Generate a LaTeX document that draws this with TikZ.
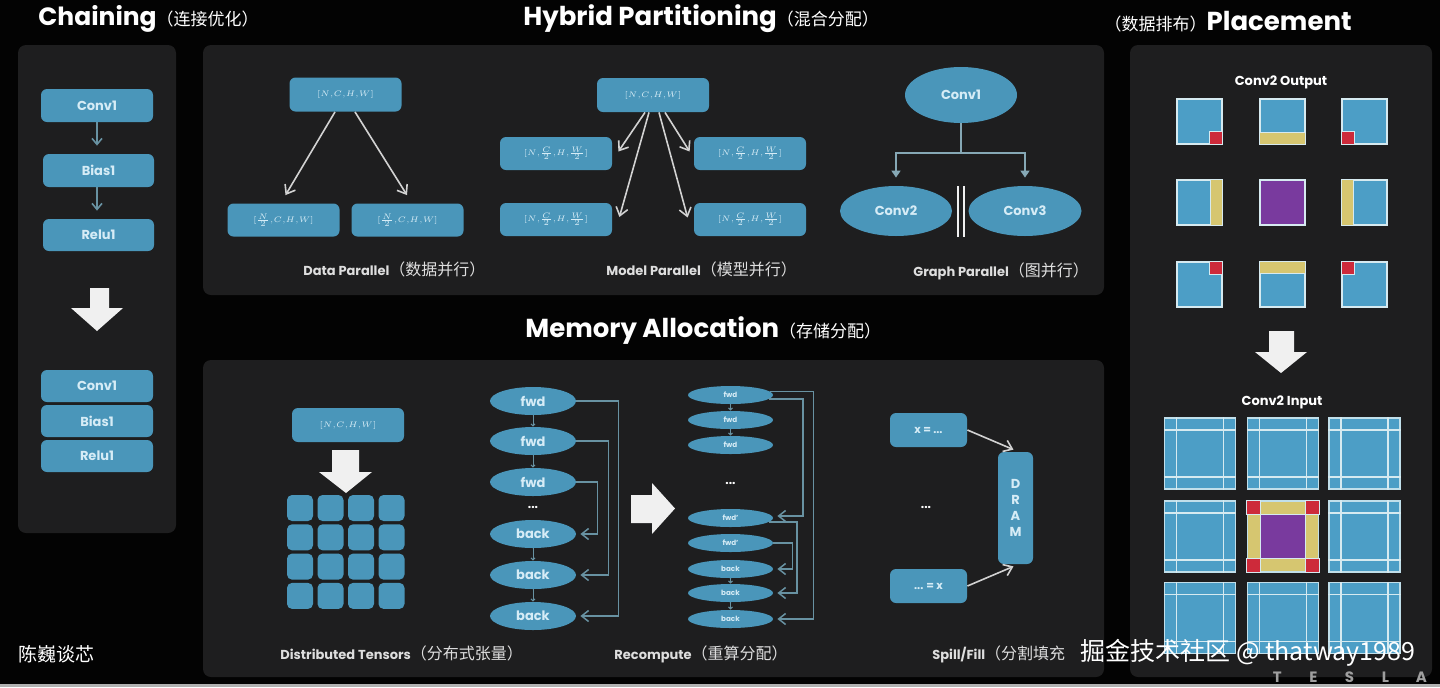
\documentclass[tikz,border=0pt]{standalone}
\usepackage{fontspec}
\usepackage{graphicx}
\setmainfont{Poppins}
\newfontfamily\cjk{Noto Sans CJK SC}
\usetikzlibrary{shapes.geometric,arrows.meta,calc}
\definecolor{bg}{RGB}{3,3,3}
\definecolor{panel}{RGB}{30,30,31}
\definecolor{boxblue}{RGB}{74,150,186}
\definecolor{boxtext}{RGB}{214,236,246}
\definecolor{arrgray}{RGB}{210,210,210}
\definecolor{linkblue}{RGB}{104,146,162}
\definecolor{sqblue}{RGB}{76,158,198}
\definecolor{sqline}{RGB}{214,234,240}
\definecolor{yel}{RGB}{214,198,112}
\definecolor{redc}{RGB}{205,42,58}
\definecolor{pur}{RGB}{121,58,158}
\definecolor{lbl}{RGB}{222,222,222}
\definecolor{bigarr}{RGB}{240,240,240}
\newcommand\zhA[1]{{\cjk\mdseries\fontsize{8.5}{9}\selectfont #1}}
\newcommand\zhB[1]{{\cjk\mdseries\fontsize{8}{9}\selectfont #1}}
\newcommand\smallmath[1]{\scalebox{0.8}{$#1$}}
\tikzset{
  panelbox/.style={fill=panel, rounded corners=4pt},
  bluebox/.style={rectangle, rounded corners=3pt, fill=boxblue, text=boxtext, inner sep=0pt, font=\bfseries\fontsize{6.5}{7}\selectfont},
  mathbox/.style={bluebox, font=\fontsize{5}{6}\selectfont},
  blueell/.style={ellipse, fill=boxblue, text=boxtext, inner sep=0pt, font=\bfseries\fontsize{6.5}{7}\selectfont},
  smallell/.style={blueell, font=\bfseries\fontsize{3.6}{4}\selectfont},
  ttl/.style={text=white, inner sep=0pt, font=\bfseries\fontsize{13}{14}\selectfont},
  lbltext/.style={text=lbl, inner sep=0pt, font=\bfseries\fontsize{6.5}{7}\selectfont},
  dotsty/.style={text=white, inner sep=0pt, font=\bfseries\fontsize{6}{7}\selectfont},
  grayarrow/.style={draw=arrgray, line width=0.8pt, -{Straight Barb[length=4pt,width=6pt]}},
  chainarrow/.style={draw=linkblue, line width=0.8pt, -{Straight Barb[length=3pt,width=5pt]}},
  fbarrow/.style={draw=linkblue, line width=0.75pt, -{Straight Barb[length=3.5pt,width=5.5pt]}},
  tinyarrow/.style={draw=linkblue, line width=0.5pt, -{Straight Barb[length=1pt,width=2pt]}},
  gline/.style={draw=linkblue!80!white, line width=0.8pt},
  osq/.style={rectangle, fill=sqblue, draw=sqline, line width=0.6pt, minimum size=22.5pt, inner sep=0pt},
  isq/.style={rectangle, fill=sqblue, draw=sqline!85!sqblue, line width=0.7pt, minimum size=35.5pt, inner sep=0pt},
  ovl/.style={draw=sqline, line width=0.6pt},
  inl/.style={draw=sqline, line width=0.75pt},
}
\begin{document}
\begin{tikzpicture}[x=0.5pt,y=-0.5pt]
\fill[bg] (0,0) rectangle (1440,687);
\useasboundingbox (0,0) rectangle (1440,687);
\fill[gray!60] (0,684) rectangle (1440,687);

% panels
\fill[panelbox] (18,45) rectangle (176,533);
\fill[panelbox] (203,45) rectangle (1104,295);
\fill[panelbox] (203,360) rectangle (1104,677);
\fill[panelbox] (1130,45) rectangle (1432,677);

% titles
\node[ttl, anchor=base west, font=\bfseries\fontsize{12.5}{14}\selectfont] (tchain) at (38,25) {Chaining\zhA{（连接优化）}};
\node[ttl, anchor=base west] (thybrid) at (523,25) {Hybrid Partitioning\zhA{（混合分配）}};
\node[ttl, anchor=base east] (tplace) at (1352,30) {\zhA{（数据排布）}Placement};
\node[ttl, anchor=base west] (tmem) at (525,337) {Memory Allocation\zhA{（存储分配）}};

% ---------------- Chaining ----------------
\node[bluebox, minimum width=56pt, minimum height=16.5pt] (cc1) at (97,105.5) {Conv1};
\node[bluebox, minimum width=55.5pt, minimum height=16.5pt] (cb1) at (98.5,170.5) {Bias1};
\node[bluebox, minimum width=55.5pt, minimum height=16pt] (cr1) at (98.5,235) {Relu1};
\draw[chainarrow] (cc1.south) -- ([yshift=4pt]cc1.south |- cb1.north);
\draw[chainarrow] (cc1.south |- cb1.south) -- ([yshift=4pt]cc1.south |- cr1.north);
\fill[bigarr] (90,288) -- (109,288) -- (109,308) -- (123,308) -- (97,331) -- (71,308) -- (90,308) -- cycle;
\node[bluebox, minimum width=56pt, minimum height=16pt] (cc2) at (97,386) {Conv1};
\node[bluebox, minimum width=56pt, minimum height=16pt] (cb2) at (97,421) {Bias1};
\node[bluebox, minimum width=56pt, minimum height=16pt] (cr2) at (97,456) {Relu1};

% ---------------- Data parallel ----------------
\node[mathbox, minimum width=56pt, minimum height=17pt] (dtop) at (345.5,94.5) {\smallmath{[N{,}C{,}H{,}W]}};
\node[mathbox, minimum width=56pt, minimum height=16.5pt] (dl) at (283.5,220) {\smallmath{[\frac{N}{2}{,}C{,}H{,}W]}};
\node[mathbox, minimum width=56pt, minimum height=16.5pt] (dr) at (407.5,220) {\smallmath{[\frac{N}{2}{,}C{,}H{,}W]}};
\draw[grayarrow] ([xshift=-5.25pt]dtop.south) -- ([xshift=1pt,yshift=4pt]dl.north);
\draw[grayarrow] ([xshift=4.75pt]dtop.south) -- ([xshift=-0.25pt,yshift=4pt]dr.north);
\node[lbltext, anchor=base west] (ldp) at (303,275) {Data Parallel\zhB{（数据并行）}};

% ---------------- Model parallel ----------------
\node[mathbox, minimum width=56pt, minimum height=17pt] (mtop) at (653,95) {\smallmath{[N{,}C{,}H{,}W]}};
\node[mathbox, minimum width=56pt, minimum height=16.5pt] (ml1) at (556,153.5) {\smallmath{[N{,}\frac{C}{2}{,}H{,}\frac{W}{2}]}};
\node[mathbox, minimum width=56pt, minimum height=16.5pt] (mr1) at (750,153.5) {\smallmath{[N{,}\frac{C}{2}{,}H{,}\frac{W}{2}]}};
\node[mathbox, minimum width=56pt, minimum height=16.5pt] (ml2) at (556,219.5) {\smallmath{[N{,}\frac{C}{2}{,}H{,}\frac{W}{2}]}};
\node[mathbox, minimum width=56pt, minimum height=16.5pt] (mr2) at (750,219.5) {\smallmath{[N{,}\frac{C}{2}{,}H{,}\frac{W}{2}]}};
\draw[grayarrow] ([xshift=-4pt]mtop.south) -- ([xshift=3pt,yshift=1pt]ml1.east);
\draw[grayarrow] ([xshift=-2pt]mtop.south) -- ([xshift=3.5pt,yshift=1.25pt]ml2.east);
\draw[grayarrow] ([xshift=3pt]mtop.south) -- ([xshift=-3pt,yshift=1pt]mr2.west);
\draw[grayarrow] ([xshift=6pt]mtop.south) -- ([xshift=-2pt,yshift=1pt]mr1.west);
\node[lbltext, anchor=base west] (lmp) at (606,275) {Model Parallel\zhB{（模型并行）}};

% ---------------- Graph parallel ----------------
\node[blueell, minimum width=56pt, minimum height=28pt] (g1) at (961,95) {Conv1};
\node[blueell, minimum width=56pt, minimum height=25pt] (g2) at (896,211) {Conv2};
\node[blueell, minimum width=56.5pt, minimum height=25pt] (g3) at (1025,211) {Conv3};
\coordinate (gj) at (961,153);
\draw[gline] (g1.south) -- (gj);
\draw[gline, -{Triangle[length=3.5pt,width=4.5pt]}] (gj) -| ([yshift=4pt]g2.north);
\draw[gline, -{Triangle[length=3.5pt,width=4.5pt]}] (gj) -| ([yshift=4pt]g3.north);
\draw[white!88!gray, line width=1pt] (958,186) -- (958,237) (964,186) -- (964,237);
\node[lbltext, anchor=base west] (lgp) at (913,276) {Graph Parallel\zhB{（图并行）}};

% ---------------- Distributed tensors ----------------
\node[mathbox, minimum width=56pt, minimum height=17pt] (dt) at (348,425) {\smallmath{[N{,}C{,}H{,}W]}};
\fill[bigarr] (332,450) -- (359,450) -- (359,472) -- (372,472) -- (346,493) -- (319,472) -- (332,472) -- cycle;
\foreach \i in {0,...,3}{
  \foreach \j in {0,...,3}{
    \node[bluebox, minimum size=13pt, rounded corners=2.5pt] (cell-\i-\j) at ({300+30.5*\i},{508+29.3*\j}) {};
  }
}
\node[lbltext, anchor=base west] (ldt) at (280,659) {Distributed Tensors\zhB{（分布式张量）}};

% ---------------- Recompute (before) ----------------
\node[blueell, minimum width=43pt, minimum height=14pt] (f1) at (533,401) {fwd};
\node[blueell, minimum width=43pt, minimum height=14pt] (f2) at (533,441) {fwd};
\node[blueell, minimum width=43pt, minimum height=14pt] (f3) at (533,482) {fwd};
\node[dotsty] (rd1) at (533,507) {...};
\node[blueell, minimum width=43pt, minimum height=14pt] (k1) at (533,534) {back};
\node[blueell, minimum width=43pt, minimum height=14pt] (k2) at (533,575) {back};
\node[blueell, minimum width=43pt, minimum height=14pt] (k3) at (533,616) {back};
\draw[tinyarrow] (f1.south) -- (f2.north);
\draw[tinyarrow] (f2.south) -- (f3.north);
\draw[tinyarrow] (k1.south) -- (k2.north);
\draw[tinyarrow] (k2.south) -- (k3.north);
\draw[fbarrow] (f1.east) -- ++(42,0) |- ([xshift=2pt]k3.east);
\draw[fbarrow] (f2.east) -- ++(32,0) |- ([xshift=2pt]k2.east);
\draw[fbarrow] (f3.east) -- ++(21,0) |- ([xshift=2pt]k1.east);

\fill[bigarr] (631,495) -- (652,495) -- (652,483) -- (675,508.5) -- (652,534) -- (652,523) -- (631,523) -- cycle;

% ---------------- Recompute (after) ----------------
\node[smallell, minimum width=42.5pt, minimum height=9pt] (e1) at (730.5,395) {fwd};
\node[smallell, minimum width=42.5pt, minimum height=9pt] (e2) at (730.5,420) {fwd};
\node[smallell, minimum width=42.5pt, minimum height=9pt] (e3) at (730.5,445) {fwd};
\node[dotsty] (rd2) at (730.5,483) {...};
\node[smallell, minimum width=42.5pt, minimum height=9pt] (e4) at (730.5,518) {fwd'};
\node[smallell, minimum width=42.5pt, minimum height=9pt] (e5) at (730.5,543) {fwd'};
\node[smallell, minimum width=42.5pt, minimum height=9pt] (e6) at (730.5,569) {back};
\node[smallell, minimum width=42.5pt, minimum height=9pt] (e7) at (730.5,593) {back};
\node[smallell, minimum width=42.5pt, minimum height=9pt] (e8) at (730.5,619) {back};
\draw[tinyarrow] (e1.south) -- (e2.north);
\draw[tinyarrow] (e2.south) -- (e3.north);
\draw[tinyarrow] (e6.south) -- (e7.north);
\draw[tinyarrow] (e7.south) -- (e8.north);
\draw[fbarrow] (e1.5) -- ++(43,0) |- ([xshift=2pt]e8.east);
\draw[fbarrow] (e1.-6) -- ++(34,0) |- ([xshift=2pt,yshift=1pt]e4.east);
\draw[fbarrow] (e4.-6) -- ++(28,0) |- ([xshift=2pt]e7.east);
\draw[fbarrow] (e5.east) -- ++(19,0) |- ([xshift=2pt]e6.east);
\node[lbltext, anchor=base west] (lrc) at (614,659) {Recompute\zhB{（重算分配）}};

% ---------------- Spill / Fill ----------------
\node[bluebox, minimum width=38.5pt, minimum height=17pt, font=\bfseries\fontsize{5.5}{6}\selectfont] (s1) at (928.5,430) {x = ...};
\node[bluebox, minimum width=38.5pt, minimum height=17pt, font=\bfseries\fontsize{5.5}{6}\selectfont] (s2) at (928.5,586) {... = x};
\node[dotsty] (sd) at (926,507) {...};
\node[bluebox, minimum width=17.5pt, minimum height=56pt, align=center, font=\bfseries\fontsize{6.5}{8}\selectfont] (dram) at (1015.5,508) {D\\R\\A\\M};
\draw[grayarrow] (s1.east) -- ([xshift=-1pt,yshift=1pt]dram.north);
\draw[grayarrow] (s2.east) -- ([xshift=-1pt,yshift=-1pt]dram.south);
\node[lbltext, anchor=base west] (lsf) at (932,659) {Spill/Fill\zhB{（分割填充}};

% ---------------- Placement ----------------
\node[text=white, inner sep=0pt, font=\bfseries\fontsize{6.5}{7}\selectfont] (cout) at (1281,82) {Conv2 Output};
\node[osq] (o11) at (1199.5,121.5) {};
\node[osq] (o12) at (1282.5,121.5) {};
\node[osq] (o13) at (1364.5,121.5) {};
\node[osq] (o21) at (1199.5,202.5) {};
\node[osq, fill=pur] (o22) at (1282.5,202.5) {};
\node[osq] (o23) at (1364.5,202.5) {};
\node[osq] (o31) at (1199.5,284.5) {};
\node[osq] (o32) at (1282.5,284.5) {};
\node[osq] (o33) at (1364.5,284.5) {};
\filldraw[ovl, fill=redc] ([xshift=-6.5pt,yshift=6.5pt]o11.south east) rectangle (o11.south east);
\filldraw[ovl, fill=yel] (o12.south west) rectangle ([yshift=6pt]o12.south east);
\filldraw[ovl, fill=redc] (o13.south west) rectangle ([xshift=6.5pt,yshift=6.5pt]o13.south west);
\filldraw[ovl, fill=yel] ([xshift=-6pt]o21.north east) rectangle (o21.south east);
\filldraw[ovl, fill=yel] (o23.north west) rectangle ([xshift=6pt]o23.south west);
\filldraw[ovl, fill=redc] ([xshift=-6.5pt,yshift=-6.5pt]o31.north east) rectangle (o31.north east);
\filldraw[ovl, fill=yel] (o32.north west) rectangle ([yshift=-6pt]o32.north east);
\filldraw[ovl, fill=redc] (o33.north west) rectangle ([xshift=6.5pt,yshift=-6.5pt]o33.north west);

\fill[bigarr] (1269,331) -- (1294,331) -- (1294,352) -- (1307,352) -- (1281,373) -- (1255,352) -- (1269,352) -- cycle;

\node[text=white, inner sep=0pt, font=\bfseries\fontsize{6.5}{7}\selectfont] (cin) at (1282,402) {Conv2 Input};
\node[isq] (i11) at (1200,453.5) {};
\node[isq] (i12) at (1283,453.5) {};
\node[isq] (i13) at (1364.5,453.5) {};
\node[isq] (i21) at (1200,536.5) {};
\node[isq, fill=yel] (i22) at (1283,536.5) {};
\node[isq] (i23) at (1364.5,536.5) {};
\node[isq] (i31) at (1200,618) {};
\node[isq] (i32) at (1283,618) {};
\node[isq] (i33) at (1364.5,618) {};
\foreach \n in {i11,i12,i13,i21,i23,i31,i32,i33}{
  \draw[inl] ([xshift=6.25pt]\n.north west) -- ([xshift=6.25pt]\n.south west);
  \draw[inl] ([xshift=-6.25pt]\n.north east) -- ([xshift=-6.25pt]\n.south east);
  \draw[inl] ([yshift=-6.25pt]\n.north west) -- ([yshift=-6.25pt]\n.north east);
  \draw[inl] ([yshift=6.25pt]\n.south west) -- ([yshift=6.25pt]\n.south east);
}
\filldraw[ovl, fill=pur] ([xshift=7pt,yshift=-7pt]i22.north west) rectangle ([xshift=-7pt,yshift=7pt]i22.south east);
\filldraw[ovl, fill=redc] (i22.north west) rectangle ([xshift=7pt,yshift=-7pt]i22.north west);
\filldraw[ovl, fill=redc] (i22.north east) rectangle ([xshift=-7pt,yshift=-7pt]i22.north east);
\filldraw[ovl, fill=redc] (i22.south west) rectangle ([xshift=7pt,yshift=7pt]i22.south west);
\filldraw[ovl, fill=redc] (i22.south east) rectangle ([xshift=-7pt,yshift=7pt]i22.south east);

% ---------------- footer ----------------
\node[anchor=base west, text=white, inner sep=0pt, font=\cjk\fontsize{9.5}{10}\selectfont] (author) at (18,661) {陈巍谈芯};
\node[anchor=base west, text=white, inner sep=0pt, font=\cjk\fontsize{12.5}{13}\selectfont] (wm) at (1080,660) {掘金技术社区 @ thatway1989};
\node[anchor=west, text=gray!75, inner sep=0pt, font=\bfseries\fontsize{7.5}{8}\selectfont] (tesla) at (1259,677) {\makebox[18pt]{T}\makebox[18pt]{E}\makebox[18pt]{S}\makebox[18pt]{L}\makebox[18pt]{A}};
\end{tikzpicture}
\end{document}
